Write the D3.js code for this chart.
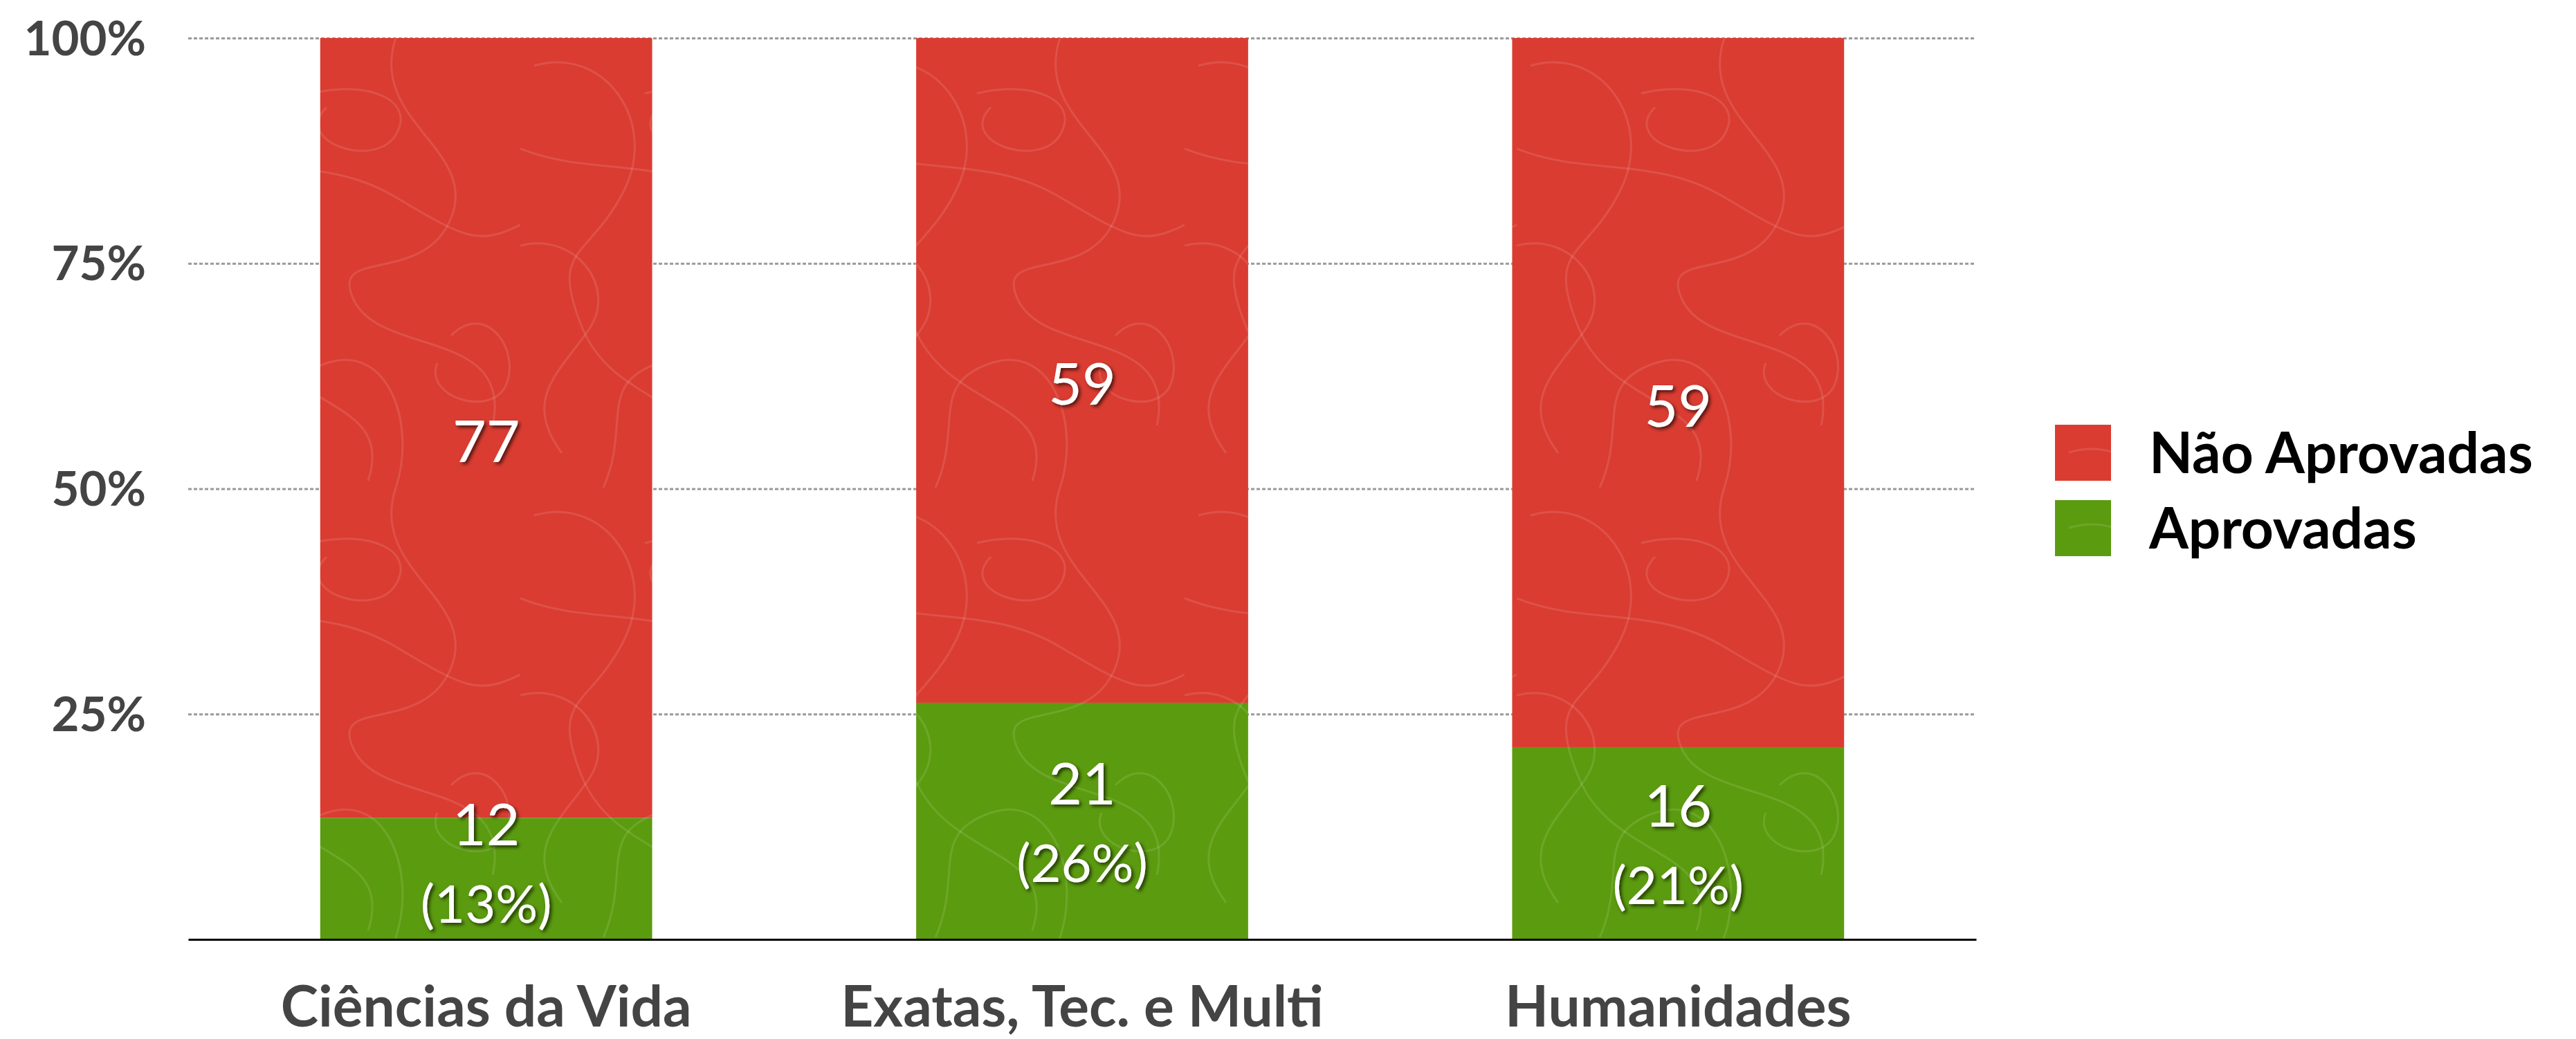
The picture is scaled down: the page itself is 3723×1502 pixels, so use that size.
<!DOCTYPE html>
<html>
<head>
<meta charset="utf-8">
<script src="https://cdn.jsdelivr.net/npm/d3@7"></script>
<style>
  body { margin: 0; background: #fff; }
  text { font-family: Lato, "Open Sans", sans-serif; }
</style>
</head>
<body>
<div class="chart"></div>
<script>
var categories = ["Ciências da Vida", "Exatas, Tec. e Multi", "Humanidades"];
var aprovadas = [12, 21, 16];
var naoAprovadas = [77, 59, 59];
var seriesNames = ["Não Aprovadas", "Aprovadas"];
var yTicks = [0.25, 0.5, 0.75, 1];

var margin = { top: 55, right: 867, bottom: 144, left: 272 };
var width = 3723 - margin.left - margin.right;
var height = 1502 - margin.top - margin.bottom;

var red = "#da3c31";
var green = "#5b9b0f";

var svg = d3.select(".chart")
  .append("svg")
    .attr("width", width + margin.left + margin.right)
    .attr("height", height + margin.top + margin.bottom);

// scribble texture for the bars
var defs = svg.append("defs");
var scribbles = [
  "M20,40 C120,10 200,120 150,220 S40,300 90,420 S300,520 260,640",
  "M300,0 C260,120 420,160 380,260 S200,300 240,380 S470,420 440,560",
  "M0,300 C80,280 140,360 100,420 S0,520 60,600",
  "M180,80 C260,60 330,90 300,140 S150,150 200,100",
  "M380,430 C430,380 480,450 460,500 S340,520 360,470",
  "M0,160 C100,200 200,170 300,230 S420,300 480,270",
  "M120,650 C160,560 110,500 200,470 S330,560 300,650"
];
[["red", red], ["green", green]].forEach(function(p) {
  var pat = defs.append("pattern")
    .attr("id", "tex-" + p[0])
    .attr("patternUnits", "userSpaceOnUse")
    .attr("width", 480).attr("height", 650);
  pat.append("rect").attr("width", 480).attr("height", 650).attr("fill", p[1]);
  pat.selectAll("path").data(scribbles).join("path")
    .attr("d", function(d) { return d; })
    .attr("fill", "none")
    .attr("stroke", "rgba(255,255,255,0.11)")
    .attr("stroke-width", 3);
});

var shadow = defs.append("filter").attr("id", "shadow")
  .attr("x", "-20%").attr("y", "-20%").attr("width", "140%").attr("height", "140%");
shadow.append("feDropShadow")
  .attr("dx", 3).attr("dy", 3).attr("stdDeviation", 2.5)
  .attr("flood-color", "#000").attr("flood-opacity", 0.65);

var g = svg.append("g")
  .attr("transform", `translate(${margin.left}, ${margin.top})`);

var rows = categories.map(function(c, i) {
  return { cat: c, aprovadas: aprovadas[i], nao: naoAprovadas[i] };
});

var stack = d3.stack()
  .keys(["aprovadas", "nao"])
  .offset(d3.stackOffsetExpand);
var layers = stack(rows);

var xScale = d3.scaleBand()
  .domain(categories)
  .range([0, width])
  .paddingInner(0.443)
  .paddingOuter(0.2215);

var yScale = d3.scaleLinear()
  .domain([0, 1])
  .range([height, 0]);

// grid lines
g.append("g")
  .attr("class", "grid")
  .call(d3.axisLeft(yScale).tickValues(yTicks).tickSize(-width).tickFormat(""))
  .call(function(s) {
    s.select(".domain").remove();
    s.selectAll("line")
      .attr("stroke", "#9a9a9a")
      .attr("stroke-width", 3)
      .attr("stroke-dasharray", "5,3");
  });

// y labels
g.append("g")
  .call(d3.axisLeft(yScale).tickValues(yTicks).tickSize(0).tickPadding(61).tickFormat(d3.format(".0%")))
  .call(function(s) {
    s.select(".domain").remove();
    s.selectAll("text")
      .attr("font-size", 69)
      .attr("font-weight", 700)
      .attr("fill", "#444")
      .attr("dy", "0.35em");
  });

// bars
var fills = { aprovadas: "url(#tex-green)", nao: "url(#tex-red)" };
g.selectAll(".layer")
  .data(layers)
  .join("g")
    .attr("class", "layer")
    .attr("fill", function(d) { return fills[d.key]; })
  .selectAll("rect")
  .data(function(d) { return d; })
  .join("rect")
    .attr("x", function(d) { return xScale(d.data.cat); })
    .attr("y", function(d) { return yScale(d[1]); })
    .attr("width", xScale.bandwidth())
    .attr("height", function(d) { return yScale(d[0]) - yScale(d[1]); });

// x axis
g.append("g")
  .attr("transform", `translate(0, ${height})`)
  .call(d3.axisBottom(xScale).tickSize(0).tickPadding(68))
  .call(function(s) {
    s.select(".domain").attr("stroke", "#000").attr("stroke-width", 3);
    s.selectAll("text")
      .attr("font-size", 82)
      .attr("font-weight", 700)
      .attr("fill", "#444");
  });

// value labels
var pct = d3.format(".0%");
var labels = g.append("g")
  .attr("fill", "#fff")
  .attr("text-anchor", "middle")
  .attr("filter", "url(#shadow)");

layers[1].forEach(function(d) {
  var cx = xScale(d.data.cat) + xScale.bandwidth() / 2;
  var mid = (yScale(d[0]) + yScale(d[1])) / 2;
  labels.append("text")
    .attr("x", cx).attr("y", mid + 20)
    .attr("dy", "0.35em")
    .attr("font-size", 84)
    .text(d.data.nao);
});

layers[0].forEach(function(d) {
  var cx = xScale(d.data.cat) + xScale.bandwidth() / 2;
  var mid = (yScale(d[0]) + yScale(d[1])) / 2 + 4;
  var second = Math.min(mid + 57, height - 51);
  var first = second - 114;
  labels.append("text")
    .attr("x", cx).attr("y", first)
    .attr("dy", "0.35em")
    .attr("font-size", 84)
    .text(d.data.aprovadas);
  labels.append("text")
    .attr("x", cx).attr("y", second)
    .attr("dy", "0.35em")
    .attr("font-size", 76)
    .text("(" + pct(d.data.aprovadas / (d.data.aprovadas + d.data.nao)) + ")");
});

// legend
var legend = svg.append("g")
  .attr("transform", "translate(2970, 614)");
var legendFills = ["url(#tex-red)", "url(#tex-green)"];
var item = legend.selectAll("g")
  .data(seriesNames)
  .join("g")
    .attr("transform", function(d, i) { return `translate(0, ${i * 109})`; });
item.append("rect")
  .attr("width", 81).attr("height", 81)
  .attr("fill", function(d, i) { return legendFills[i]; });
item.append("text")
  .attr("x", 136).attr("y", 41)
  .attr("dy", "0.35em")
  .attr("font-size", 82)
  .attr("font-weight", 700)
  .attr("fill", "#000")
  .text(function(d) { return d; });
</script>
</body>
</html>
